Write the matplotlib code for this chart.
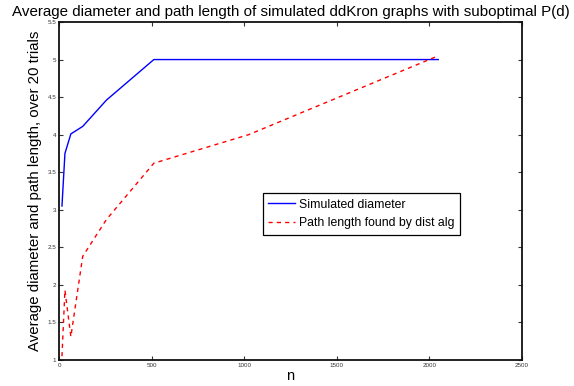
import matplotlib
matplotlib.use("Agg")
import matplotlib.pyplot as plt

plt.rcParams['font.family'] = ['Liberation Sans', 'DejaVu Sans']

n = [16, 32, 64, 128, 256, 512, 1024, 2048]
diameter = [3.05, 3.75, 4.01, 4.11, 4.46, 5.0, 5.0, 5.0]
path_len = [1.05, 1.93, 1.31, 2.38, 2.87, 3.62, 4.0, 5.05]

xticks = [0, 500, 1000, 1500, 2000, 2500]
yticks = [1, 1.5, 2, 2.5, 3, 3.5, 4, 4.5, 5, 5.5]

fig = plt.figure(figsize=(5.74, 3.86), dpi=100)
ax = fig.add_axes([0.1028, 0.0674, 0.8066, 0.8756])

ax.plot(n, diameter, color='#0000ff', lw=1.0, label='Simulated diameter')
ax.plot(n, path_len, color='#ff0000', lw=1.0, ls=(0, (3, 3)), label='Path length found by dist alg')

ax.set_xlim(0, 2500)
ax.set_ylim(1, 5.5)
ax.set_xticks(xticks)
ax.set_xticklabels([str(t) for t in xticks])
ax.set_yticks(yticks)
ax.set_yticklabels([f'{t:g}' for t in yticks])
ax.tick_params(direction='in', top=True, right=True, labelsize=4.5, length=3, width=0.8,
               colors='#333333', labelcolor='#333333', pad=2)
for s in ax.spines.values():
    s.set_linewidth(1.3)
    s.set_color('#111111')

ax.set_xlabel('n', fontsize=10.5, labelpad=1)
ax.set_ylabel('Average diameter and path length, over 20 trials', fontsize=10.8)
ax.yaxis.set_label_coords(-0.036, 0.5)
ax.set_title('Average diameter and path length of simulated ddKron graphs with suboptimal P(d)',
             fontsize=10.9, pad=4.5)

leg = ax.legend(loc='upper left', bbox_to_anchor=(0.4406, 0.494), borderaxespad=0,
                fontsize=8.8, fancybox=False, framealpha=1, edgecolor='black',
                handlelength=2.2, handletextpad=0.3, borderpad=0.45, labelspacing=0.55)
leg.get_frame().set_linewidth(0.9)

fig.savefig('out.png', dpi=100)
